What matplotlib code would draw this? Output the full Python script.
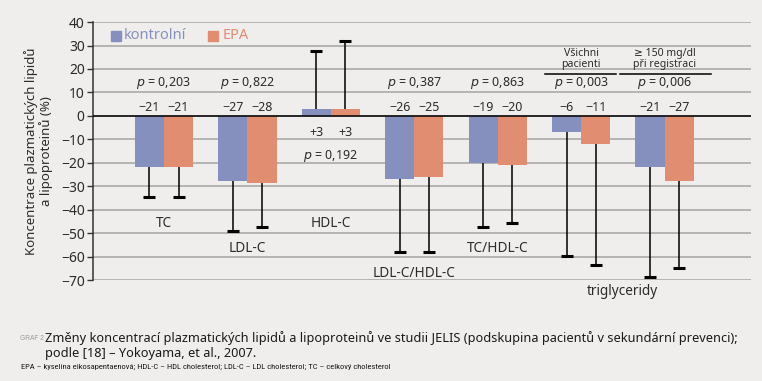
import matplotlib

matplotlib.use("Agg")
import matplotlib.pyplot as plt
from matplotlib import font_manager
import numpy as np

# data (bar heights as drawn, labels as printed)
groups = ["TC", "LDL-C", "HDL-C", "LDL-C/HDL-C", "TC/HDL-C", "triglyceridy", "triglyceridy150"]
control = [-21.9, -27.6, 2.8, -26.7, -19.9, -6.7, -21.9]
epa = [-21.9, -28.7, 2.8, -25.9, -21.1, -12.1, -27.6]
control_whisker = [-34.7, -49.3, 27.8, -57.9, -47.5, -59.6, -68.5]
epa_whisker = [-34.7, -47.5, 32.1, -57.9, -45.5, -63.8, -64.7]
control_labels = ["−21", "−27", "+3", "−26", "−19", "−6", "−21"]
epa_labels = ["−21", "−28", "+3", "−25", "−20", "−11", "−27"]
p_values = ["0,203", "0,822", "0,192", "0,387", "0,863", "0,003", "0,006"]
yticks = [40, 30, 20, 10, 0, -10, -20, -30, -40, -50, -60, -70]

BLUE = "#8690be"
SALMON = "#e08d71"
BG = "#efeeec"
GRID = "#a4a4a4"
TXT = "#2b2b2b"
FONT = ["Noto Sans", "DejaVu Sans"]

# a condensed face for the small caption lines, if one is installed
installed = {f.name for f in font_manager.fontManager.ttflist}
narrow = next((n for n in ("Liberation Sans Narrow", "Roboto Condensed", "Open Sans Condensed")
               if n in installed), None)
if narrow is None:
    NARROW, NARROW_SCALE = ["Liberation Sans", "DejaVu Sans"], 0.67
else:
    NARROW, NARROW_SCALE = [narrow, "DejaVu Sans"], 0.85

plt.rcParams["font.family"] = FONT

fig = plt.figure(figsize=(7.62, 3.81), dpi=100, facecolor=BG)
ax = fig.add_axes([0.122, 0.265, 0.863, 0.677])
ax.set_facecolor(BG)

x = np.arange(len(groups))
w = 0.35
ax.bar(x - w / 2, control, w, color=BLUE, zorder=3)
ax.bar(x + w / 2, epa, w, color=SALMON, zorder=3)

# one-sided whiskers from bar end to cap
for offset, vals, ends in ((-w / 2, control, control_whisker), (w / 2, epa, epa_whisker)):
    ax.vlines(x + offset, vals, ends, color="black", lw=1.1, zorder=2)
    ax.plot(x + offset, ends, ls="none", marker="_", ms=8, mew=2.2, color="black", zorder=2)

ax.axhline(0, color="black", lw=1.1, zorder=4)

# value labels and p-values
for i in range(len(groups)):
    if control[i] > 0:
        ly, py = -7.2, -17
    else:
        ly, py = 3.6, 13.9
    ax.text(x[i] - w / 2, ly, control_labels[i], ha="center", va="center", fontsize=9, color=TXT)
    ax.text(x[i] + w / 2, ly, epa_labels[i], ha="center", va="center", fontsize=9, color=TXT)
    ax.text(x[i], py, f"$p$ = {p_values[i]}", ha="center", va="center", fontsize=9, color=TXT)

# category names
cat_pos = [(0, -46, "TC"), (1, -56.6, "LDL-C"), (2, -46, "HDL-C"), (3, -67, "LDL-C/HDL-C"),
           (4, -56.6, "TC/HDL-C"), (5.5, -74.8, "triglyceridy")]
for cx, cy, name in cat_pos:
    ax.text(cx, cy, name, ha="center", va="center", fontsize=9.8, color=TXT, clip_on=False)

# triglyceride sub-headers
for cx, head in ((5, "Všichni\npacienti"), (6, "≥ 150 mg/dl\npři registraci")):
    ax.text(cx, 24.3, head, ha="center", va="center", fontsize=7.6, color=TXT, linespacing=0.95)
ax.plot([4.57, 5.42], [18, 18], color="black", lw=1.1, clip_on=False)
ax.plot([5.47, 6.56], [18, 18], color="black", lw=1.1, clip_on=False)

# legend
ax.plot([-0.575], [34.2], ls="none", marker="s", ms=7.5, color=BLUE, zorder=5)
ax.text(-0.485, 34.2, "kontrolní", color=BLUE, fontsize=10.5, va="center", ha="left")
ax.plot([0.593], [34.2], ls="none", marker="s", ms=7.5, color=SALMON, zorder=5)
ax.text(0.70, 34.2, "EPA", color=SALMON, fontsize=10.5, va="center", ha="left")

ax.set_xlim(-0.85, 7.03)
ax.set_ylim(-70, 40)
ax.set_yticks(yticks)
ax.set_yticklabels([str(t).replace("-", "−") for t in yticks], fontsize=10, color=TXT)
ax.set_xticks([])
ax.grid(axis="y", color=GRID, lw=1.1, zorder=0)
ax.tick_params(axis="y", length=4, width=1, color="#333333", pad=2)
for side in ("top", "right", "bottom"):
    ax.spines[side].set_visible(False)
ax.spines["left"].set_color("#333333")
ax.spines["left"].set_linewidth(1.1)
ax.set_ylabel("Koncentrace plazmatických lipidů\na lipoproteinů (%)", fontsize=9.5,
              color=TXT, labelpad=6, linespacing=1.05)

# caption
fig.text(20 / 762, 1 - 338 / 381, "GRAF 2", fontsize=4.8, color="#9a9a9a",
         va="center", ha="left", family=["Liberation Sans", "DejaVu Sans"])
fig.text(45 / 762, 1 - 338 / 381,
         "Změny koncentrací plazmatických lipidů a lipoproteinů ve studii JELIS (podskupina pacientů v sekundární prevenci);",
         fontsize=9.2, color="#1a1a1a", va="center", ha="left")
fig.text(45 / 762, 1 - 353 / 381, "podle [18] – Yokoyama, et al., 2007.",
         fontsize=9.2, color="#1a1a1a", va="center", ha="left")
fig.text(21 / 762, 1 - 367 / 381,
         "EPA – kyselina eikosapentaenová; HDL-C – HDL cholesterol; LDL-C – LDL cholesterol; TC – celkový cholesterol",
         fontsize=7.2 * NARROW_SCALE, color="#1a1a1a", va="center", ha="left", family=NARROW)

fig.savefig("out.png", dpi=100, facecolor=BG)
